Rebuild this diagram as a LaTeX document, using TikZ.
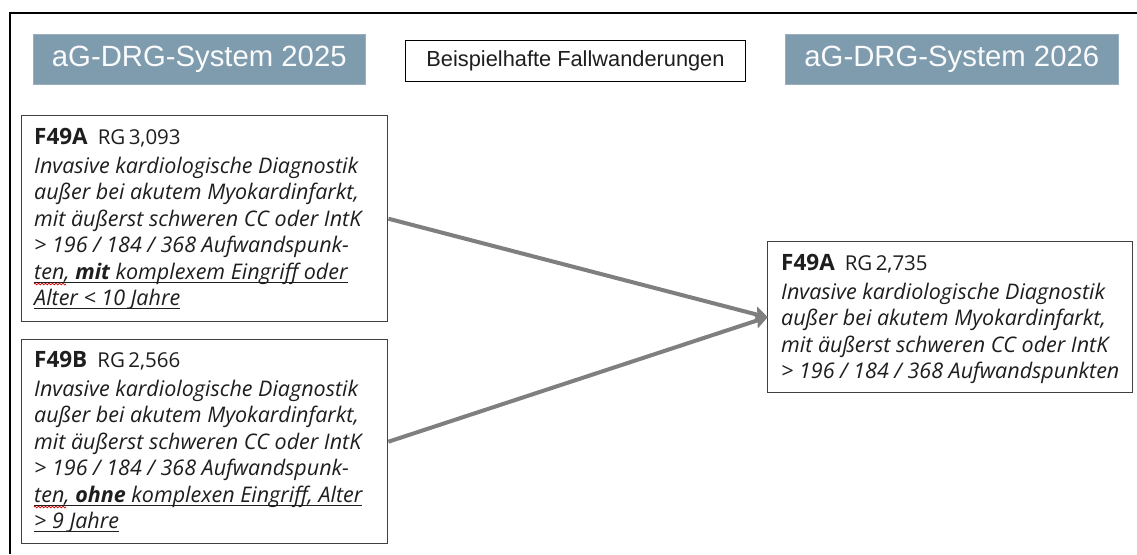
\documentclass[tikz,border=0pt]{standalone}
\usepackage{fontspec}
\setmainfont{Liberation Sans}
\newfontfamily\boxfont{Open Sans}
\usetikzlibrary{arrows.meta,decorations.pathmorphing}
\definecolor{hdrblue}{HTML}{7F9BAE}
\definecolor{arrowgray}{HTML}{7F7F7F}
\definecolor{boxline}{HTML}{404040}
\definecolor{txt}{HTML}{1E1E1E}
\newlength\ulw
\newcommand\myul[1]{\settowidth\ulw{#1}\rlap{\rule[-3.5pt]{\ulw}{1pt}}#1}
\tikzset{
  header/.style={fill=hdrblue, draw=hdrblue!80!white, line width=0.6pt, text=white!96!hdrblue, font=\fontsize{29.3}{31}\selectfont, inner sep=0pt, minimum height=50pt},
  drgbox/.style={draw=boxline, line width=1.4pt, inner sep=0pt, anchor=north west},
  boxtext/.style={inner sep=0pt, anchor=base west, text=txt, font=\boxfont\fontsize{21.5}{26.5}\selectfont},
  migr/.style={draw=arrowgray, line width=4pt, -{Triangle[length=13pt,width=15pt,inset=2pt]}, shorten >=-1pt},
  squig/.style={draw=red!85!black, line width=0.7pt, decorate, decoration={snake, amplitude=0.9pt, segment length=3.5pt}},
}
\newcommand\hdr[2]{{\fontsize{22.5}{24}\selectfont\textbf{#1}}\hspace{10pt}{\fontsize{20.5}{22}\selectfont RG\,#2}}
\begin{document}
\begin{tikzpicture}[x=1pt,y=-1pt]
\useasboundingbox (0,0) rectangle (1137,554);
\fill[white] (0,0) rectangle (1137,554);
% outer frame
\draw[line width=2pt, black] (9.5,554) -- (9.5,13) -- (1137,13);
% headers
\node[header, minimum width=332pt, anchor=north west] (h25) at (33,34) {aG-DRG-System 2025};
\node[header, minimum width=333pt, anchor=north west] (h26) at (785,34) {aG-DRG-System 2026};
\node[draw=black, line width=1pt, minimum width=340pt, minimum height=41pt, inner sep=0pt, anchor=north west, font=\fontsize{21.8}{23}\selectfont, text=txt] (beisp) at (405,40) {Beispielhafte Fallwanderungen};
% boxes
\node[drgbox, minimum width=366pt, minimum height=206pt] (boxA) at (21,115) {};
\node[drgbox, minimum width=366pt, minimum height=204pt] (boxB) at (21,339) {};
\node[drgbox, minimum width=365pt, minimum height=151pt] (boxC) at (767,241) {};
% texts
\node[boxtext] (tA) at (34,144) {\parbox[t]{360pt}{\hdr{F49A}{3,093}\\[2.5pt]
\itshape Invasive kardiologische Diagnostik\\
außer bei akutem Myokardinfarkt,\\
mit äußerst schweren CC oder IntK\\
> 196 / 184 / 368 Aufwandspunk-\\
\myul{ten, \textbf{mit} komplexem Eingriff oder}\\
\myul{Alter < 10 Jahre}}};
\node[boxtext] (tB) at (34,367) {\parbox[t]{360pt}{\hdr{F49B}{2,566}\\[2.5pt]
\itshape Invasive kardiologische Diagnostik\\
außer bei akutem Myokardinfarkt,\\
mit äußerst schweren CC oder IntK\\
> 196 / 184 / 368 Aufwandspunk-\\
\myul{ten, \textbf{ohne} komplexen Eingriff, Alter}\\
\myul{> 9 Jahre}}};
\node[boxtext] (tC) at (781,270) {\parbox[t]{360pt}{\hdr{F49A}{2,735}\\[2.5pt]
\itshape Invasive kardiologische Diagnostik\\
außer bei akutem Myokardinfarkt,\\
mit äußerst schweren CC oder IntK\\
> 196 / 184 / 368 Aufwandspunkten}};
% red spell-check squiggles
\coordinate (sqA1) at (34,284); \coordinate (sqA2) at (66,284);
\coordinate (sqB1) at (34,507); \coordinate (sqB2) at (66,507);
\draw[squig] (sqA1) -- (sqA2);
\draw[squig] (sqB1) -- (sqB2);
% arrows
\draw[migr] (boxA.east) -- (boxC.west);
\draw[migr] (boxB.east) -- (boxC.west);
\end{tikzpicture}
\end{document}
